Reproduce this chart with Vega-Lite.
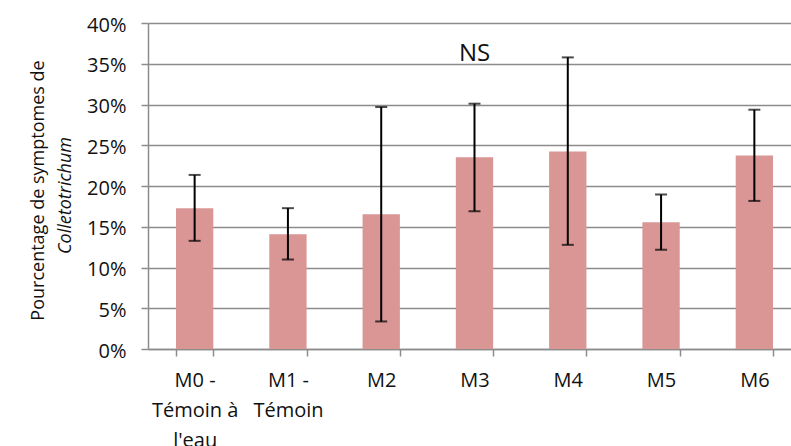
{
  "$schema": "https://vega.github.io/schema/vega-lite/v6.json",
  "width": 643,
  "height": 326,
  "autosize": "none",
  "padding": {"left": 148, "top": 23, "right": 0, "bottom": 97},
  "background": "white",
  "config": {"view": {"stroke": null}, "font": "Open Sans"},
  "data": {
    "values": [
      {"traitement": "M0 -\nTémoin à\nl'eau", "pct": 0.1728, "lo": 0.1327, "hi": 0.2136},
      {"traitement": "M1 -\nTémoin", "pct": 0.1409, "lo": 0.1098, "hi": 0.1728},
      {"traitement": "M2", "pct": 0.1654, "lo": 0.0338, "hi": 0.2969},
      {"traitement": "M3", "pct": 0.2353, "lo": 0.169, "hi": 0.301},
      {"traitement": "M4", "pct": 0.2422, "lo": 0.1278, "hi": 0.3578},
      {"traitement": "M5", "pct": 0.1556, "lo": 0.1217, "hi": 0.1895},
      {"traitement": "M6", "pct": 0.2373, "lo": 0.1817, "hi": 0.2936}
    ]
  },
  "layer": [
    {
      "mark": {"type": "bar", "color": "#D99694"},
      "encoding": {
        "x": {
          "field": "traitement",
          "type": "nominal",
          "scale": {
            "domain": ["M0 -\nTémoin à\nl'eau", "M1 -\nTémoin", "M2", "M3", "M4", "M5", "M6"],
            "range": [0, 653],
            "paddingInner": 0.6,
            "paddingOuter": 0.3
          },
          "axis": {
            "title": null,
            "grid": false,
            "domainColor": "#8c8c8c",
            "domainWidth": 1.5,
            "tickBand": "extent",
            "tickColor": "#8c8c8c",
            "tickSize": 7,
            "tickWidth": 1.5,
            "labelAngle": 0,
            "labelFont": "Open Sans",
            "labelFontSize": 20,
            "labelColor": "#111111",
            "labelPadding": 14,
            "labelBaseline": "top",
            "labelLineHeight": 30,
            "labelExpr": "split(datum.label, '\\n')"
          }
        },
        "y": {
          "field": "pct",
          "type": "quantitative",
          "scale": {"domain": [0, 0.4], "nice": false},
          "axis": {
            "orient": "left",
            "values": [0, 0.05, 0.1, 0.15, 0.2, 0.25, 0.3, 0.35, 0.4],
            "format": ".0%",
            "grid": true,
            "gridColor": "#8c8c8c",
            "gridWidth": 1.5,
            "domainColor": "#8c8c8c",
            "domainWidth": 1.5,
            "tickColor": "#8c8c8c",
            "tickSize": 7,
            "tickWidth": 1.5,
            "labelFont": "Open Sans",
            "labelFontSize": 20,
            "labelColor": "#111111",
            "labelPadding": 15,
            "labelOffset": 2,
            "title": "Pourcentage de symptomes de",
            "titleFont": "Open Sans",
            "titleFontSize": 18,
            "titleFontWeight": "normal",
            "titleColor": "#111111",
            "titleX": -105,
            "titleY": 167,
            "titleBaseline": "alphabetic"
          }
        }
      }
    },
    {
      "mark": {"type": "rule", "color": "black", "strokeWidth": 2},
      "encoding": {
        "x": {"field": "traitement", "type": "nominal"},
        "y": {
          "field": "lo",
          "type": "quantitative",
          "axis": {
            "orient": "left",
            "labels": false,
            "ticks": false,
            "domain": false,
            "grid": false,
            "title": "Colletotrichum",
            "titleFont": "Open Sans",
            "titleFontSize": 18,
            "titleFontStyle": "italic",
            "titleFontWeight": "normal",
            "titleColor": "#111111",
            "titleX": -78,
            "titleY": 172,
            "titleBaseline": "alphabetic"
          }
        },
        "y2": {"field": "hi"}
      }
    },
    {
      "mark": {"type": "tick", "color": "black", "size": 12, "thickness": 2},
      "encoding": {
        "x": {"field": "traitement", "type": "nominal"},
        "y": {"field": "lo", "type": "quantitative", "axis": null}
      }
    },
    {
      "mark": {"type": "tick", "color": "black", "size": 12, "thickness": 2},
      "encoding": {
        "x": {"field": "traitement", "type": "nominal"},
        "y": {"field": "hi", "type": "quantitative", "axis": null}
      }
    },
    {
      "data": {"values": [{"traitement": "M3", "label": "NS", "pos": 0.3537}]},
      "mark": {"type": "text", "font": "Open Sans", "fontSize": 24, "color": "#111111", "align": "center", "baseline": "alphabetic"},
      "encoding": {
        "x": {"field": "traitement", "type": "nominal"},
        "y": {"field": "pos", "type": "quantitative", "axis": null},
        "text": {"field": "label"}
      }
    }
  ],
  "resolve": {"axis": {"y": "independent"}}
}
